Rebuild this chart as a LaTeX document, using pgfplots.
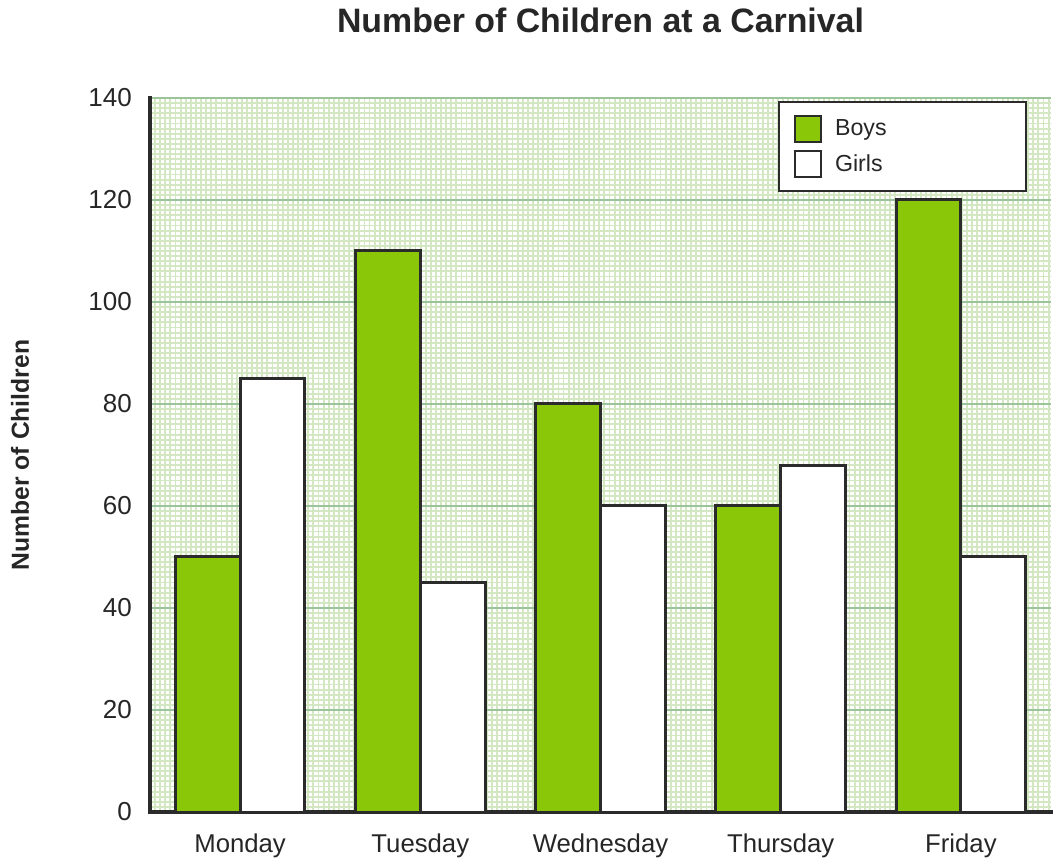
\documentclass[border=0pt]{standalone}
\usepackage{fontspec}
\setmainfont{Liberation Sans}
\usepackage{pgfplots}
\pgfplotsset{compat=1.18}
\definecolor{boys}{HTML}{8BC709}
\definecolor{edge}{HTML}{2B2B2B}
\definecolor{majgrid}{HTML}{9CC49A}
\definecolor{mingrid}{HTML}{D3E7C3}
\definecolor{txt}{HTML}{262626}
\begin{document}
\begin{tikzpicture}
\path[use as bounding box] (-112.5pt,-40.5pt) rectangle (681.75pt,609pt);
\begin{axis}[
  at={(0pt,0pt)}, anchor=south west,
  scale only axis, width=675.75pt, height=535.5pt,
  xmin=-0.5, xmax=4.5, ymin=0, ymax=140,
  axis x line=bottom, axis y line=left,
  axis line style={-, draw=edge, line width=2.5pt, line cap=rect},
  ytick={0,20,...,140}, minor y tick num=19,
  xtick={0,...,4}, xticklabels={Monday,Tuesday,Wednesday,Thursday,Friday},
  minor xtick={-0.5,-0.471667,...,4.5},
  ymajorgrids, yminorgrids, xminorgrids, xmajorgrids=false,
  major grid style={draw=majgrid, line width=1.5pt},
  minor grid style={draw=mingrid, line width=1.4pt},
  major tick length=0pt, minor tick length=0pt,
  /pgf/number format/assume math mode=true,
  yticklabel style={font=\fontsize{19.5}{22}\selectfont, text=txt, inner sep=0pt, xshift=-13.5pt, anchor=east},
  xticklabel style={font=\fontsize{19.3}{22}\selectfont, text=txt, inner sep=0pt, anchor=base, yshift=-30pt},
  every axis title shift=0pt,
  title={Number of Children at a Carnival},
  title style={at={(axis description cs:0.5,1.1092)}, anchor=center, yshift=0pt, font=\fontsize{25.4}{30}\selectfont\bfseries, text=txt, inner sep=0pt},
  ylabel={Number of Children},
  ylabel style={at={(axis description cs:-0.1443,0.5)}, anchor=center, font=\fontsize{18.5}{22}\selectfont\bfseries, text=txt, inner sep=0pt},
  ybar, bar width=0.36,
  legend cell align=left,
  legend style={at={(axis description cs:0.9734,0.9958)}, anchor=north east,
    draw=edge, line width=1.5pt, fill=white, inner xsep=11.25pt, inner ysep=6.75pt,
    row sep=0pt, column sep=9.75pt,
    font=\fontsize{17.4}{20}\selectfont, text=txt,
    nodes={inner sep=0pt, minimum height=26.6pt},
    /tikz/every even column/.append style={text width=132pt}},
]
\addplot[fill=boys, draw=edge, line width=2.25pt, bar shift=-0.18,
  legend image code/.code={\draw[fill=boys, draw=edge, line width=1.5pt] (0pt,-9.75pt) rectangle (19.5pt,9.75pt);}]
  coordinates {(0,50) (1,110) (2,80) (3,60) (4,120)};
\addplot[fill=white, draw=edge, line width=2.25pt, bar shift=0.18,
  legend image code/.code={\draw[fill=white, draw=edge, line width=1.5pt] (0pt,-9.75pt) rectangle (19.5pt,9.75pt);}]
  coordinates {(0,85) (1,45) (2,60) (3,68) (4,50)};
\legend{Boys,Girls}
\end{axis}
\end{tikzpicture}
\end{document}
